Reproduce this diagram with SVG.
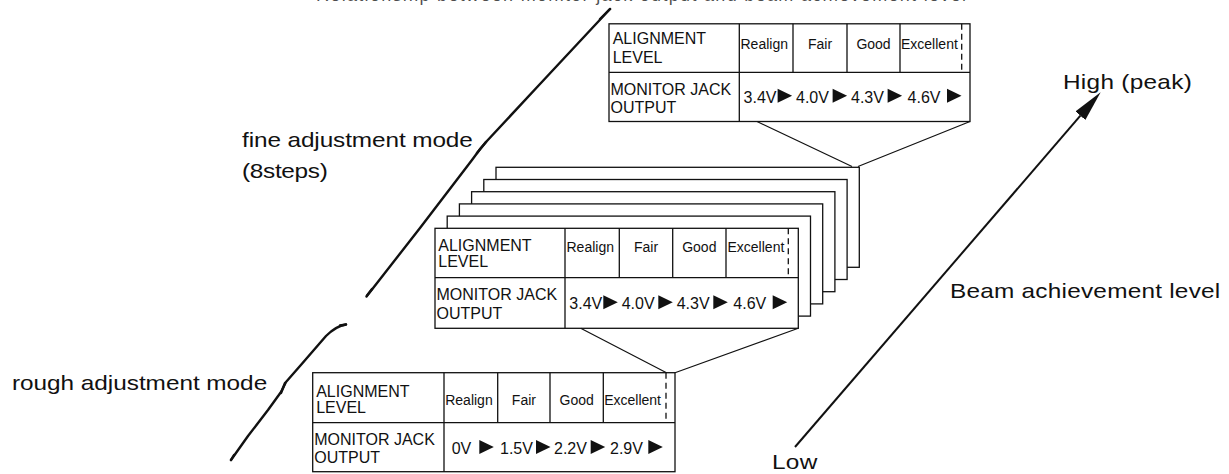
<svg xmlns="http://www.w3.org/2000/svg" xmlns:xlink="http://www.w3.org/1999/xlink" width="1229" height="474" viewBox="0 0 1229 474">
<style>
.t{font-family:"Liberation Sans",Arial,Helvetica,sans-serif;fill:#111}
.lbl{font-size:21px}
.h{font-size:16px}
.s{font-size:14px}
.v{font-size:16px}
.box{fill:#fff;stroke:#111;stroke-width:1.3}
.ln{fill:none;stroke:#111;stroke-width:1.3}
.dash{stroke-dasharray:6 4}
.brush{fill:none;stroke:#111;stroke-width:2.4;stroke-linecap:round;stroke-linejoin:round}
.thin{fill:none;stroke:#111;stroke-width:1.2}
.mid{text-anchor:middle}
</style>
<defs>
<polygon id="tri" points="0,-14 14.5,-7 0,0" fill="#111"/>
<marker id="ah" markerUnits="userSpaceOnUse" markerWidth="31" markerHeight="13" refX="0" refY="6.5" orient="auto">
<path d="M0,0 L31,6.5 L0,13 Z" fill="#111"/>
</marker>
</defs>
<rect width="1229" height="474" fill="#fff"/>

<text class="t" x="316" y="1" font-size="18" textLength="650" lengthAdjust="spacing" fill-opacity="0.75">Relationship between monitor jack output and beam achievement level</text>

<g id="labels">
<text class="t lbl" transform="translate(242,147) scale(1.16,1)" textLength="199" lengthAdjust="spacing">fine adjustment mode</text>
<text class="t lbl" transform="translate(242,178) scale(1.16,1)" textLength="74" lengthAdjust="spacing">(8steps)</text>
<text class="t lbl" transform="translate(12,390) scale(1.16,1)" textLength="220" lengthAdjust="spacing">rough adjustment mode</text>
<text class="t lbl" transform="translate(1063,89) scale(1.16,1)" textLength="111" lengthAdjust="spacing">High (peak)</text>
<text class="t lbl" transform="translate(950,298) scale(1.16,1)" textLength="233" lengthAdjust="spacing">Beam achievement level</text>
<text class="t lbl" transform="translate(772,469) scale(1.16,1)" textLength="39" lengthAdjust="spacing">Low</text>
</g>

<g id="stack-back">
<rect class="box" x="496" y="167.3" width="363.3" height="100"/>
<rect class="box" x="483.8" y="179.5" width="363.3" height="100"/>
<rect class="box" x="471.6" y="191.7" width="363.3" height="100"/>
<rect class="box" x="459.4" y="203.9" width="363.3" height="100"/>
<rect class="box" x="447.2" y="216.1" width="363.3" height="100"/>
</g>

<g id="table-fine-top" transform="translate(609,23.8)">
<rect class="box" width="361" height="97.7"/>
<path class="ln" d="M0,48.5H361 M130.3,0V97.7 M184,0V48.5 M238,0V48.5 M291,0V48.5"/>
<path class="ln dash" d="M352.7,0V48.5"/>
<text class="t h" x="3.7" y="20.2">ALIGNMENT</text>
<text class="t h" x="3.7" y="39">LEVEL</text>
<text class="t s" x="131.5" y="25.5">Realign</text>
<text class="t s mid" x="211" y="25.5">Fair</text>
<text class="t s mid" x="264.5" y="25.5">Good</text>
<text class="t s" x="292" y="25.5">Excellent</text>
<text class="t h" x="1.5" y="71.2">MONITOR JACK</text>
<text class="t h" x="1.5" y="89">OUTPUT</text>
<text class="t v" x="134.6" y="79">3.4V</text>
<use href="#tri" xlink:href="#tri" x="168.6" y="79"/>
<text class="t v" x="187" y="79">4.0V</text>
<use href="#tri" xlink:href="#tri" x="223.6" y="79"/>
<text class="t v" x="242" y="79">4.3V</text>
<use href="#tri" xlink:href="#tri" x="278.6" y="79"/>
<text class="t v" x="298.6" y="79">4.6V</text>
<use href="#tri" xlink:href="#tri" x="338" y="79"/>
</g>

<g id="table-fine-front" transform="translate(435,228.3)">
<rect class="box" width="363.3" height="100"/>
<path class="ln" d="M0,49.4H363.3 M130,0V100 M184.3,0V49.4 M237.7,0V49.4 M291,0V49.4"/>
<path class="ln dash" d="M353.3,0V49.4"/>
<text class="t h" x="3.3" y="22.4">ALIGNMENT</text>
<text class="t h" x="3.3" y="39">LEVEL</text>
<text class="t s" x="131.5" y="24">Realign</text>
<text class="t s mid" x="211" y="24">Fair</text>
<text class="t s mid" x="264.3" y="24">Good</text>
<text class="t s" x="292.5" y="24">Excellent</text>
<text class="t h" x="1.5" y="71.7">MONITOR JACK</text>
<text class="t h" x="1.5" y="90.5">OUTPUT</text>
<text class="t v" x="134.3" y="81">3.4V</text>
<use href="#tri" xlink:href="#tri" x="168.3" y="81"/>
<text class="t v" x="186.7" y="81">4.0V</text>
<use href="#tri" xlink:href="#tri" x="223.3" y="81"/>
<text class="t v" x="241.7" y="81">4.3V</text>
<use href="#tri" xlink:href="#tri" x="278.3" y="81"/>
<text class="t v" x="298.3" y="81">4.6V</text>
<use href="#tri" xlink:href="#tri" x="337.7" y="81"/>
</g>

<g id="table-rough" transform="translate(312.7,372.7)">
<rect class="box" width="362.3" height="99"/>
<path class="ln" d="M0,50H362.3 M131.3,0V99 M185,0V50 M237.3,0V50 M290.6,0V50"/>
<path class="ln dash" d="M353.3,0V50"/>
<text class="t h" x="3.5" y="24">ALIGNMENT</text>
<text class="t h" x="3.5" y="40.6">LEVEL</text>
<text class="t s" x="132.5" y="32">Realign</text>
<text class="t s mid" x="211.2" y="32">Fair</text>
<text class="t s mid" x="264" y="32">Good</text>
<text class="t s" x="291.5" y="32">Excellent</text>
<text class="t h" x="1.5" y="72.3">MONITOR JACK</text>
<text class="t h" x="1.5" y="90.6">OUTPUT</text>
<text class="t v" x="139" y="81.3">0V</text>
<use href="#tri" xlink:href="#tri" x="166.6" y="81.3"/>
<text class="t v" x="187.3" y="81.3">1.5V</text>
<use href="#tri" xlink:href="#tri" x="223.3" y="81.3"/>
<text class="t v" x="241.3" y="81.3">2.2V</text>
<use href="#tri" xlink:href="#tri" x="278" y="81.3"/>
<text class="t v" x="297.3" y="81.3">2.9V</text>
<use href="#tri" xlink:href="#tri" x="335.6" y="81.3"/>
</g>

<g id="connectors">
<path class="thin" d="M757,121.5 L852,166.5 M970,121.5 L858,166.5"/>
<path class="thin" d="M580.7,328.3 L666.5,372.7 M798.3,328.3 L675,372.7"/>
<path class="brush" d="M366.5,296.5 L420,228 L472,160 L480.5,148.5 L486,142 L540,84 L610,9"/>
<path class="brush" stroke-width="4" d="M367,295.5 L372,289 M477,153 L486,142 M600,19 L610,9"/>
<path class="brush" d="M346,324.5 Q336,326 326,336 L300,366 L286,382 L281,392 L268,410 L248,436 L231,460"/>
<path class="brush" stroke-width="4" d="M340,325.5 L346,324.5 M285,383 L281,393 M231,460 L234,455"/>
<line x1="795" y1="447" x2="1080.4" y2="115.7" stroke="#111" stroke-width="2" marker-end="url(#ah)"/>
</g>
</svg>
